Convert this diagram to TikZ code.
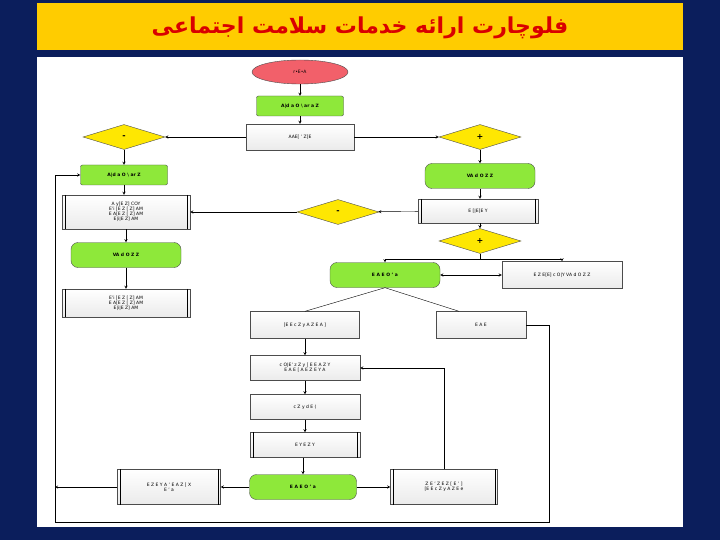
\documentclass[tikz,border=0pt]{standalone}
\usepackage{fontspec}
\setmainfont{DejaVu Sans}
\newfontfamily\arabicfont[Script=Arabic]{DejaVu Sans}
\TeXXeTstate=1
\usetikzlibrary{shapes.geometric,positioning}
\definecolor{slide}{HTML}{0B1E5C}
\definecolor{bar}{HTML}{FFCC00}
\definecolor{leaf}{HTML}{8EE83A}
\definecolor{startc}{HTML}{F2606A}
\tikzset{
  every node/.style={font=\fontsize{4.5}{5}\selectfont, align=center},
  greenbox/.style={draw=black!70, fill=leaf, rounded corners=2pt, minimum height=20pt},
  greenround/.style={draw=black!70, fill=leaf, rounded corners=7pt, minimum height=25pt},
  graybox/.style={draw=black!70, fill=white, top color=white, bottom color=black!8, minimum height=26pt},
  procbox/.style={graybox, append after command={
      ([xshift=3pt]\tikzlastnode.north west) edge[-] ([xshift=3pt]\tikzlastnode.south west)
      ([xshift=-3pt]\tikzlastnode.north east) edge[-] ([xshift=-3pt]\tikzlastnode.south east)}},
  decision/.style={diamond, aspect=3.3, draw=black!70, fill=yellow!90!orange, inner sep=0pt,
      minimum width=82pt, minimum height=25pt, font=\bfseries\fontsize{8}{8}\selectfont},
  flow/.style={->, >=stealth, thin},
}
\begin{document}
\begin{tikzpicture}[x=1pt,y=-1pt]
\useasboundingbox (0,0) rectangle (720,540);
\fill[slide] (0,0) rectangle (720,540);
\fill[bar] (37,3) rectangle (683,50);
\fill[white] (37,57) rectangle (683,527);
\node[text=red!85!black, font=\arabicfont\bfseries\fontsize{22}{22}\selectfont] (title) at (360,28)
  {\beginR فلوچارت ارائه خدمات سلامت اجتماعی\endR};

%% top of the chart
\node[ellipse, draw=black!70, fill=startc, minimum width=96pt, minimum height=24pt] (start) at (300,72) {r\textbullet E\textbullet A};
\node[greenbox, minimum width=87pt] (reg) at (300,106) {\textbf{A\textbar d a O \textbackslash{} ar a Z}};
\node[graybox, minimum width=108pt] (triage) at (300,137) {AAE{[} ' Z{[}E};
\node[decision] (dl) at (124,137) {-};
\node[decision] (dr) at (480,137) {+};

%% left branch
\node[greenbox, minimum width=87pt] (regL) at (124,175) {\textbf{A\textbar d a O \textbackslash{} ar Z}};
\node[procbox, minimum width=128pt, minimum height=34pt] (careL) at (126,212) {A y{[}E Z{]} COY\\ E'i {[}E Z {[} Z{]} AM\\ E A{[}E Z {[} Z{]} AM\\ E\textbar i\textbar E Z{]} AM};
\node[greenround, minimum width=110pt] (visL) at (126,255) {\textbf{VA d O Z Z}};
\node[procbox, minimum width=128pt, minimum height=28pt] (endL) at (126,303) {E'i {[}E Z {[} Z{]} AM\\ E A{[}E Z {[} Z{]} AM\\ E\textbar i\textbar E Z{]} AM};

%% right branch
\node[greenround, minimum width=110pt] (visR) at (480,176) {\textbf{VA d O Z Z}};
\node[procbox, minimum width=120pt, minimum height=24pt] (exam) at (478,211) {E {[}\textbar E{[}E Y};
\node[decision] (dm) at (338,212) {-};
\node[decision] (dp) at (480,241) {+};
\node[greenround, minimum width=110pt] (doc) at (385,275) {\textbf{E A E O ' a}};
\node[graybox, minimum width=120pt, minimum height=27pt] (refer) at (562,275) {E Z E{[}E{]} c O\textbar Y VA d O Z Z};
\node[graybox, minimum width=109pt, minimum height=27pt] (bA) at (305,325) {{[}E E c Z y A Z E A {]}};
\node[graybox, minimum width=90pt, minimum height=27pt] (bB) at (481,325) {E A E};
\node[graybox, minimum width=110pt, minimum height=25pt] (bC) at (305,368) {c O\textbar E' z Z y {[} E E A Z Y\\ E A E {[} A E Z E Y A};
\node[graybox, minimum width=110pt, minimum height=25pt] (bD) at (305,407) {c Z y d E (};
\node[procbox, minimum width=110pt, minimum height=25pt] (bE) at (305,445) {E Y E Z Y};
\node[greenround, minimum width=107pt] (doc2) at (303,487) {\textbf{E A E O ' a}};
\node[procbox, minimum width=103pt, minimum height=35pt] (outL) at (169,487) {E Z E Y A ' E A Z {[} X\\ E ' a};
\node[procbox, minimum width=107pt, minimum height=35pt] (outR) at (444,487) {Z E ' Z E Z {[} E ' {]}\\ {[}E E c Z y A Z E e};
\coordinate (loopL) at (55,487);

%% connectors
\draw[flow] (start) -- (reg);
\draw[flow] (reg) -- (triage);
\draw[flow] (triage) -- (dl);
\draw[flow] (triage) -- (dr);
\draw[flow] (dl) -- (regL);
\draw[flow] (regL) -- (regL |- careL.north);
\draw[flow] (careL.south -| visL) -- (visL);
\draw[flow] (visL) -- (endL);
\draw[flow] (dr) -- (visR);
\draw[flow] (visR) -- (visR |- exam.north);
\draw[flow] (exam) -- (dm);
\draw[flow] (dm) -- (careL);
\draw[flow] (exam.south -| dp) -- (dp);
\draw[flow] (dp.south) -- ++(0,5) -| (doc.north);
\draw[flow] (dp.south) ++(0,5) -| (refer.north);
\draw[flow, <->] (doc) -- (refer);
\draw (doc.south) -- (bA.north);
\draw (doc.south) -- ([xshift=-22pt]bB.north);
\draw[flow] (bA) -- (bA |- bC.north);
\draw[flow] (bC) -- (bD);
\draw[flow] (bD) -- (bE);
\draw[flow] (bE.south -| doc2) -- (doc2);
\draw[flow] (doc2) -- (outL);
\draw[flow] (doc2) -- (outR);
\draw[flow] (outL) -- (loopL);
\draw[flow] (outR.north) |- (bC.east);
\draw[flow] (bB.east) -| (549,522) -| (55,175) -- (regL.west);
\end{tikzpicture}
\end{document}
